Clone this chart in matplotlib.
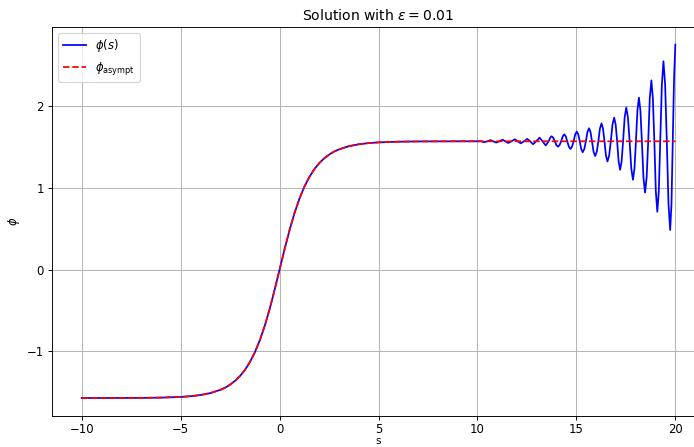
import matplotlib
matplotlib.use("Agg")
import matplotlib.pyplot as plt

# Smooth kink part, shared by both curves
s_main = [-10, -9, -8, -7, -6, -5, -4.5, -4, -3.5, -3, -2.75, -2.5, -2.25, -2, -1.75, -1.5,
          -1.25, -1, -0.75, -0.5, -0.25, 0, 0.25, 0.5, 0.75, 1, 1.25, 1.5, 1.75, 2,
          2.25, 2.5, 2.75, 3, 3.5, 4, 4.5, 5, 6, 7, 8, 9, 10]
phi_main = [-1.5708, -1.5706, -1.5701, -1.5690, -1.5658, -1.5573, -1.5486, -1.5342, -1.5104,
            -1.4713, -1.4442, -1.4070, -1.3611, -1.3018, -1.2271, -1.1317, -1.0126, -0.8658,
            -0.6884, -0.4804, -0.2474, 0.0, 0.2474, 0.4804, 0.6884, 0.8658, 1.0126, 1.1317,
            1.2271, 1.3018, 1.3611, 1.4070, 1.4442, 1.4713, 1.5104, 1.5342, 1.5486, 1.5573,
            1.5658, 1.5690, 1.5701, 1.5706, 1.5708]

# Oscillating tail of phi(s): values
s_tail = [10.17, 10.34, 10.50, 10.66, 10.80, 10.95, 11.11, 11.27, 11.41, 11.56, 11.72, 11.89,
          12.04, 12.19, 12.35, 12.52, 12.66, 12.81, 12.97, 13.14, 13.29, 13.45, 13.60,
          13.675, 13.75, 13.83, 13.91, 13.99, 14.07, 14.15, 14.23, 14.31, 14.39, 14.465, 14.54,
          14.62, 14.70, 14.78, 14.86, 14.94, 15.02, 15.095, 15.17, 15.245, 15.32, 15.40, 15.48,
          15.56, 15.64, 15.715, 15.79, 15.87, 15.95, 16.03, 16.11, 16.19, 16.27, 16.345, 16.42,
          16.495, 16.57, 16.655, 16.74, 16.825, 16.91, 16.985, 17.06, 17.135, 17.21, 17.285, 17.36,
          17.44, 17.52, 17.605, 17.69, 17.775, 17.86, 17.935, 18.01, 18.085, 18.16, 18.235, 18.31,
          18.39, 18.47, 18.55, 18.63, 18.71, 18.79, 18.865, 18.94, 19.015, 19.09, 19.165, 19.24,
          19.32, 19.40, 19.485, 19.57, 19.655, 19.74, 19.805, 19.87, 19.935, 20.00]
phi_tail = [1.5708, 1.560, 1.5708, 1.585, 1.5708, 1.555, 1.5708, 1.590, 1.5708, 1.550, 1.5708,
            1.595, 1.5708, 1.546, 1.5708, 1.600, 1.5708, 1.535, 1.5708, 1.615, 1.5708, 1.520,
            1.5708,
            1.614, 1.632, 1.614, 1.5708, 1.524, 1.505, 1.524, 1.5708, 1.631, 1.656, 1.631, 1.5708,
            1.504, 1.477, 1.504, 1.5708, 1.655, 1.690, 1.655, 1.5708, 1.476, 1.437, 1.476, 1.5708,
            1.684, 1.730, 1.684, 1.5708, 1.442, 1.390, 1.442, 1.5708, 1.726, 1.790, 1.726, 1.5708,
            1.395, 1.323, 1.395, 1.5708, 1.776, 1.860, 1.776, 1.5708, 1.323, 1.222, 1.323, 1.5708,
            1.864, 1.984, 1.864, 1.5708, 1.237, 1.100, 1.237, 1.5708, 1.950, 2.105, 1.950, 1.5708,
            1.125, 0.943, 1.125, 1.5708, 2.100, 2.316, 2.100, 1.5708, 0.958, 0.708, 0.958, 1.5708,
            2.266, 2.550, 2.266, 1.5708, 0.800, 0.485, 0.800, 1.5708, 2.33, 2.753]

# Asymptotic curve beyond the kink
s_asym_tail = [15, 20]
phi_asym_tail = [1.5708, 1.5708]

x_ticks = [-10, -5, 0, 5, 10, 15, 20]
y_ticks = [-1, 0, 1, 2]

s_phi = s_main + s_tail
phi = phi_main + phi_tail
s_asym = s_main + s_asym_tail
phi_asym = phi_main + phi_asym_tail

W, H, DPI = 694, 447, 84
fig = plt.figure(figsize=(W / DPI, H / DPI), dpi=DPI)
ax = fig.add_axes([52 / W, 1 - 415.7 / H, 653 / W, (415.7 - 27) / H])

ax.plot(s_phi, phi, color="blue", lw=1.5, label=r"$\phi(s)$")
ax.plot(s_asym, phi_asym, "r--", lw=1.5, label=r"$\phi_{\rm asympt}$")

ax.set_xticks(x_ticks)
ax.set_yticks(y_ticks)
ax.tick_params(axis="x", pad=2.5)
ax.set_xlabel("s", labelpad=0.0, fontsize=9)
ax.set_ylabel(r"$\phi$")
ax.set_title(r"Solution with $\varepsilon = 0.01$")
ax.grid(True)
ax.legend(loc="upper left")

fig.savefig("out.png", dpi=DPI)
